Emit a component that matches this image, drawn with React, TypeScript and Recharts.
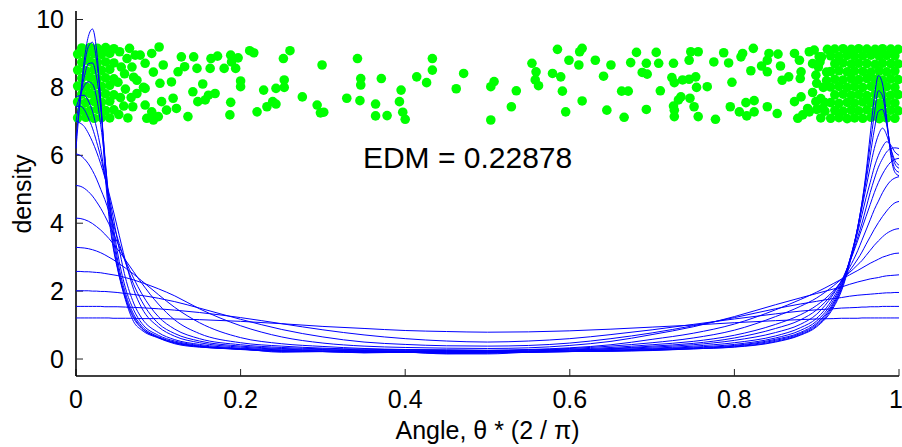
import React from "react";
import { ComposedChart, Line, Scatter, XAxis, YAxis, ReferenceDot } from "recharts";

const FONT = '"Liberation Sans", Arial, Helvetica, sans-serif';

// sample positions of the density curves
const X = [
  0, 0.005, 0.01, 0.015, 0.02, 0.025, 0.03, 0.035, 0.04, 0.045,
  0.05, 0.06, 0.07, 0.08, 0.1, 0.12, 0.15, 0.2, 0.25, 0.3,
  0.35, 0.4, 0.45, 0.5, 0.55, 0.6, 0.65, 0.7, 0.75, 0.8,
  0.85, 0.88, 0.9, 0.92, 0.93, 0.94, 0.95, 0.955, 0.96, 0.965,
  0.97, 0.975, 0.98, 0.985, 0.99, 0.995, 1,
];

// density estimates, widest bandwidth first
const C1 = [
  1.21, 1.21, 1.21, 1.21, 1.21, 1.21, 1.21, 1.21, 1.21, 1.2,
  1.2, 1.2, 1.2, 1.19, 1.19, 1.18, 1.16, 1.11, 1.04, 0.96,
  0.9, 0.84, 0.81, 0.79, 0.8, 0.83, 0.88, 0.94, 1.0, 1.07,
  1.13, 1.16, 1.18, 1.19, 1.2, 1.2, 1.2, 1.21, 1.21, 1.21,
  1.21, 1.21, 1.21, 1.21, 1.21, 1.21, 1.21,
];
const C2 = [
  1.55, 1.55, 1.55, 1.55, 1.55, 1.55, 1.55, 1.54, 1.54, 1.54,
  1.54, 1.53, 1.52, 1.51, 1.48, 1.44, 1.37, 1.22, 1.04, 0.86,
  0.71, 0.6, 0.53, 0.5, 0.53, 0.6, 0.72, 0.86, 1.02, 1.18,
  1.33, 1.41, 1.45, 1.48, 1.5, 1.51, 1.52, 1.53, 1.53, 1.54,
  1.54, 1.54, 1.55, 1.55, 1.55, 1.55, 1.55,
];
const C3 = [
  2.01, 2.01, 2.01, 2.01, 2.0, 2.0, 1.99, 1.99, 1.98, 1.97,
  1.96, 1.93, 1.9, 1.87, 1.79, 1.69, 1.5, 1.17, 0.87, 0.65,
  0.5, 0.43, 0.39, 0.38, 0.4, 0.47, 0.6, 0.77, 0.98, 1.22,
  1.48, 1.62, 1.7, 1.78, 1.81, 1.85, 1.88, 1.89, 1.9, 1.91,
  1.92, 1.93, 1.94, 1.95, 1.95, 1.96, 1.96,
];
const C4 = [
  2.58, 2.58, 2.57, 2.57, 2.56, 2.55, 2.54, 2.52, 2.5, 2.48,
  2.46, 2.4, 2.33, 2.25, 2.07, 1.86, 1.48, 0.98, 0.65, 0.47,
  0.38, 0.34, 0.32, 0.31, 0.33, 0.4, 0.52, 0.72, 0.95, 1.25,
  1.6, 1.8, 1.93, 2.06, 2.12, 2.2, 2.27, 2.3, 2.33, 2.36,
  2.38, 2.4, 2.43, 2.45, 2.46, 2.47, 2.48,
];
const C5 = [
  3.29, 3.28, 3.27, 3.25, 3.22, 3.18, 3.13, 3.07, 3.0, 2.93,
  2.85, 2.68, 2.5, 2.3, 1.9, 1.52, 1.07, 0.63, 0.45, 0.37,
  0.31, 0.28, 0.27, 0.26, 0.28, 0.33, 0.42, 0.58, 0.76, 1.03,
  1.45, 1.75, 1.97, 2.22, 2.35, 2.48, 2.61, 2.68, 2.75, 2.82,
  2.88, 2.94, 3.0, 3.04, 3.08, 3.11, 3.12,
];
const C6 = [
  4.15, 4.14, 4.11, 4.06, 3.99, 3.9, 3.8, 3.68, 3.55, 3.4,
  3.25, 2.92, 2.57, 2.23, 1.62, 1.15, 0.75, 0.48, 0.38, 0.32,
  0.29, 0.27, 0.26, 0.25, 0.27, 0.31, 0.38, 0.48, 0.62, 0.85,
  1.25, 1.55, 1.8, 2.15, 2.35, 2.55, 2.78, 2.9, 3.05, 3.2,
  3.35, 3.48, 3.6, 3.7, 3.77, 3.82, 3.84,
];
const C7 = [
  5.11, 5.09, 5.03, 4.93, 4.8, 4.63, 4.44, 4.22, 3.98, 3.72,
  3.45, 2.9, 2.38, 1.92, 1.25, 0.88, 0.6, 0.42, 0.34, 0.3,
  0.27, 0.26, 0.25, 0.24, 0.26, 0.29, 0.34, 0.42, 0.52, 0.7,
  1.02, 1.3, 1.58, 2.0, 2.28, 2.6, 2.95, 3.15, 3.38, 3.6,
  3.82, 4.02, 4.2, 4.36, 4.5, 4.6, 4.64,
];
const C8 = [
  6.04, 6.0, 5.9, 5.75, 5.55, 5.3, 5.0, 4.7, 4.35, 4.0,
  3.6, 2.85, 2.2, 1.7, 1.05, 0.75, 0.53, 0.38, 0.31, 0.28,
  0.25, 0.24, 0.23, 0.23, 0.24, 0.27, 0.31, 0.38, 0.46, 0.62,
  0.9, 1.15, 1.45, 1.95, 2.3, 2.7, 3.2, 3.5, 3.8, 4.1,
  4.4, 4.65, 4.9, 5.1, 5.25, 5.33, 5.37,
];
const C9 = [
  7.0, 6.95, 6.85, 6.65, 6.4, 6.1, 5.75, 5.35, 4.9, 4.4,
  3.9, 2.9, 2.05, 1.5, 0.95, 0.67, 0.48, 0.35, 0.29, 0.26,
  0.24, 0.23, 0.22, 0.22, 0.23, 0.26, 0.3, 0.35, 0.42, 0.55,
  0.78, 1.02, 1.32, 1.9, 2.3, 2.85, 3.5, 3.85, 4.2, 4.55,
  4.9, 5.2, 5.45, 5.65, 5.8, 5.88, 5.91,
];
const C10 = [
  7.43, 7.45, 7.35, 7.1, 6.8, 6.4, 5.95, 5.4, 4.8, 4.2,
  3.55, 2.4, 1.65, 1.2, 0.78, 0.57, 0.43, 0.32, 0.27, 0.24,
  0.23, 0.22, 0.21, 0.21, 0.22, 0.24, 0.28, 0.32, 0.38, 0.48,
  0.68, 0.92, 1.2, 1.8, 2.25, 2.85, 3.6, 4.0, 4.45, 4.9,
  5.3, 5.65, 5.9, 6.1, 6.2, 6.22, 6.2,
];
const C11 = [
  7.72, 7.76, 7.77, 7.6, 7.3, 6.8, 6.2, 5.4, 4.7, 3.95,
  3.2, 2.1, 1.45, 1.05, 0.7, 0.53, 0.4, 0.3, 0.25, 0.23,
  0.22, 0.21, 0.2, 0.2, 0.21, 0.23, 0.26, 0.3, 0.35, 0.43,
  0.62, 0.84, 1.12, 1.72, 2.2, 2.9, 3.75, 4.25, 4.75, 5.2,
  5.65, 6.0, 6.25, 6.4, 6.3, 6.1, 6.0,
];
const C12 = [
  7.4, 7.75, 8.05, 8.16, 8.1, 7.7, 6.9, 5.9, 4.75, 3.8,
  3.0, 1.95, 1.32, 0.97, 0.66, 0.5, 0.38, 0.29, 0.24, 0.22,
  0.21, 0.2, 0.19, 0.19, 0.2, 0.22, 0.25, 0.28, 0.33, 0.4,
  0.58, 0.78, 1.06, 1.65, 2.15, 2.9, 3.85, 4.45, 5.05, 5.65,
  6.2, 6.6, 6.8, 6.6, 6.2, 5.85, 5.71,
];
const C13 = [
  7.0, 7.7, 8.3, 8.7, 8.72, 8.3, 7.4, 6.0, 4.6, 3.6,
  2.85, 1.85, 1.25, 0.92, 0.64, 0.48, 0.37, 0.28, 0.23, 0.22,
  0.2, 0.2, 0.17, 0.18, 0.2, 0.22, 0.24, 0.27, 0.31, 0.38,
  0.55, 0.75, 1.02, 1.6, 2.1, 2.9, 3.9, 4.55, 5.25, 6.0,
  6.75, 7.3, 7.35, 6.9, 6.2, 5.75, 5.62,
];
const C14 = [
  6.5, 7.6, 8.6, 9.2, 9.33, 8.8, 7.6, 5.9, 4.4, 3.4,
  2.75, 1.8, 1.2, 0.9, 0.63, 0.47, 0.36, 0.29, 0.22, 0.22,
  0.19, 0.2, 0.16, 0.17, 0.21, 0.22, 0.23, 0.26, 0.3, 0.36,
  0.52, 0.72, 0.98, 1.55, 2.05, 2.85, 3.9, 4.6, 5.4, 6.3,
  7.2, 7.9, 7.75, 7.0, 6.1, 5.6, 5.5,
];
const C15 = [
  6.2, 7.6, 8.8, 9.5, 9.72, 9.1, 7.6, 5.6, 4.2, 3.3,
  2.7, 1.75, 1.1, 0.85, 0.62, 0.45, 0.35, 0.3, 0.2, 0.22,
  0.18, 0.2, 0.15, 0.15, 0.2, 0.22, 0.23, 0.25, 0.3, 0.35,
  0.5, 0.7, 0.95, 1.5, 2.0, 2.8, 3.9, 4.6, 5.5, 6.6,
  7.7, 8.35, 8.1, 7.1, 6.0, 5.5, 5.4,
];

const CURVES = [C1, C2, C3, C4, C5, C6, C7, C8, C9, C10, C11, C12, C13, C14, C15];

// raw angles (x) with jittered heights (y)
const LEFT_PTS: [number, number][] = [
  [0.002, 7.1], [0.012, 7.12], [0.022, 7.09], [0.031, 7.11], [0.041, 7.1],
  [0.007, 7.33], [0.017, 7.31], [0.026, 7.35], [0.036, 7.32], [0.046, 7.34],
  [0.002, 7.57], [0.012, 7.55], [0.022, 7.58], [0.031, 7.56], [0.041, 7.59],
  [0.007, 7.8], [0.017, 7.82], [0.026, 7.79], [0.036, 7.81], [0.046, 7.78],
  [0.002, 8.04], [0.012, 8.02], [0.022, 8.05], [0.031, 8.03], [0.041, 8.06],
  [0.007, 8.27], [0.017, 8.29], [0.026, 8.26], [0.036, 8.28], [0.046, 8.25],
  [0.002, 8.51], [0.012, 8.49], [0.022, 8.52], [0.031, 8.5], [0.041, 8.53],
  [0.007, 8.74], [0.017, 8.76], [0.026, 8.73], [0.036, 8.75], [0.046, 8.72],
  [0.002, 8.98], [0.012, 8.96], [0.022, 8.99], [0.031, 8.97], [0.041, 9.0],
  [0.007, 9.16], [0.017, 9.17], [0.026, 9.15], [0.036, 9.17], [0.046, 9.14],
  [0.052, 7.2], [0.054, 7.7], [0.051, 8.15], [0.055, 8.6], [0.053, 9.05],
  [0.058, 7.45], [0.06, 7.95], [0.059, 8.4], [0.062, 8.85], [0.065, 9.15],
  [0.063, 7.1], [0.067, 7.7], [0.07, 8.3], [0.072, 8.95], [0.068, 8.6],
  [0.101, 9.19], [0.092, 9.0], [0.078, 8.95], [0.084, 8.71], [0.074, 8.21],
  [0.084, 7.97], [0.102, 8.12], [0.116, 8.16], [0.124, 8.46], [0.132, 8.61],
  [0.143, 8.9], [0.147, 8.56], [0.142, 7.87], [0.148, 7.58], [0.074, 7.82],
  [0.069, 7.43], [0.084, 7.48], [0.092, 7.28], [0.104, 7.58], [0.1, 7.14],
  [0.11, 7.33], [0.118, 7.68], [0.122, 7.38], [0.136, 7.14], [0.086, 7.09],
  [0.094, 7.04], [0.106, 8.66], [0.094, 8.45], [0.128, 8.9], [0.082, 8.0],
];

const MID_PTS: [number, number][] = [
  [0.164, 8.85], [0.172, 8.92], [0.163, 8.56], [0.154, 8.1], [0.169, 7.82],
  [0.161, 7.77], [0.157, 7.63], [0.188, 8.95], [0.189, 8.75], [0.197, 8.87],
  [0.194, 8.56], [0.18, 8.56], [0.188, 7.56], [0.187, 7.19], [0.2, 8.19],
  [0.2, 8.02], [0.211, 9.08], [0.216, 9.02], [0.22, 7.28], [0.228, 7.92],
  [0.232, 7.43], [0.239, 7.58], [0.243, 7.51], [0.243, 7.97], [0.253, 8.22],
  [0.253, 8.0], [0.252, 8.85], [0.26, 9.08], [0.275, 7.72], [0.293, 7.48],
  [0.297, 7.25], [0.301, 7.27], [0.299, 8.66], [0.329, 7.68], [0.342, 8.85],
  [0.346, 8.26], [0.346, 8.07], [0.345, 7.61], [0.364, 7.51], [0.364, 7.16],
  [0.371, 8.26], [0.378, 7.17], [0.395, 7.92], [0.393, 7.58], [0.397, 7.27],
  [0.4, 7.06], [0.414, 8.31], [0.426, 8.14], [0.433, 8.85], [0.433, 8.51],
  [0.462, 7.96], [0.471, 8.41], [0.504, 8.02], [0.508, 8.17], [0.504, 7.04],
  [0.529, 7.43], [0.535, 7.9], [0.554, 8.71], [0.559, 8.46], [0.558, 8.22],
  [0.562, 8.05], [0.579, 8.41], [0.585, 9.12], [0.589, 8.31], [0.591, 7.89],
  [0.595, 7.28], [0.599, 8.8], [0.611, 8.66], [0.612, 9.05], [0.615, 9.15],
  [0.615, 7.6], [0.631, 8.8], [0.641, 8.33], [0.65, 8.66], [0.645, 7.33],
  [0.663, 7.89], [0.671, 7.89], [0.666, 7.12], [0.674, 8.73], [0.681, 9.03],
  [0.693, 8.71], [0.688, 8.44], [0.694, 8.39], [0.693, 7.35], [0.705, 9.03],
  [0.708, 8.71], [0.71, 7.9], [0.726, 8.71], [0.724, 8.29], [0.727, 8.14],
  [0.737, 8.22], [0.745, 8.24], [0.753, 8.31], [0.735, 7.72], [0.732, 7.63],
  [0.746, 7.68], [0.726, 7.45], [0.727, 7.33], [0.727, 7.14], [0.747, 9.05],
  [0.745, 8.8], [0.754, 8.0], [0.751, 7.43], [0.756, 9.05], [0.756, 7.14],
];

const RIGHT_PTS: [number, number][] = [
  [0.775, 8.75], [0.787, 9.02], [0.793, 8.72], [0.808, 8.9], [0.81, 9.0],
  [0.823, 9.15], [0.82, 8.49], [0.797, 8.15], [0.767, 8.02], [0.795, 7.43],
  [0.814, 7.55], [0.824, 7.61], [0.806, 7.28], [0.815, 7.16], [0.824, 7.28],
  [0.777, 7.06], [0.842, 9.0], [0.84, 8.8], [0.853, 8.98], [0.833, 8.63],
  [0.84, 8.46], [0.856, 8.63], [0.858, 8.21], [0.866, 8.31], [0.873, 9.0],
  [0.891, 9.05], [0.879, 8.8], [0.881, 8.46], [0.88, 8.26], [0.873, 7.58],
  [0.881, 7.72], [0.889, 7.38], [0.877, 7.09], [0.883, 7.19], [0.891, 7.28],
  [0.84, 7.43], [0.852, 7.23], [0.895, 8.7], [0.899, 8.36], [0.9, 8.12],
  [0.905, 7.67], [0.899, 7.58], [0.907, 7.38], [0.903, 8.9],
  [0.905, 7.1], [0.91, 7.55], [0.908, 8.0], [0.912, 8.45], [0.906, 8.9],
  [0.913, 9.12], [0.9, 7.35], [0.902, 8.6], [0.895, 7.85], [0.897, 9.1],
  [0.91, 7.3], [0.912, 8.2], [0.904, 8.75],
  [0.917, 7.09], [0.927, 7.11], [0.937, 7.08], [0.946, 7.1], [0.956, 7.09], [0.966, 7.12], [0.976, 7.08], [0.985, 7.1], [0.995, 7.09],
  [0.922, 7.32], [0.932, 7.3], [0.942, 7.33], [0.951, 7.31], [0.961, 7.34], [0.971, 7.3], [0.98, 7.32], [0.99, 7.33], [0.999, 7.31],
  [0.917, 7.55], [0.927, 7.53], [0.937, 7.56], [0.946, 7.54], [0.956, 7.57], [0.966, 7.55], [0.976, 7.53], [0.985, 7.56], [0.995, 7.54],
  [0.922, 7.78], [0.932, 7.8], [0.942, 7.77], [0.951, 7.79], [0.961, 7.76], [0.971, 7.8], [0.98, 7.78], [0.99, 7.77], [0.999, 7.79],
  [0.917, 8.01], [0.927, 8.03], [0.937, 8.0], [0.946, 8.02], [0.956, 8.0], [0.966, 8.03], [0.976, 8.01], [0.985, 8.02], [0.995, 8.0],
  [0.922, 8.24], [0.932, 8.22], [0.942, 8.25], [0.951, 8.23], [0.961, 8.26], [0.971, 8.24], [0.98, 8.22], [0.99, 8.25], [0.999, 8.23],
  [0.917, 8.47], [0.927, 8.49], [0.937, 8.46], [0.946, 8.48], [0.956, 8.47], [0.966, 8.45], [0.976, 8.48], [0.985, 8.46], [0.995, 8.48],
  [0.922, 8.7], [0.932, 8.72], [0.942, 8.69], [0.951, 8.71], [0.961, 8.7], [0.971, 8.68], [0.98, 8.71], [0.99, 8.7], [0.999, 8.69],
  [0.917, 8.93], [0.927, 8.91], [0.937, 8.94], [0.946, 8.92], [0.956, 8.93], [0.966, 8.95], [0.976, 8.92], [0.985, 8.94], [0.995, 8.93],
  [0.922, 9.13], [0.932, 9.14], [0.942, 9.12], [0.951, 9.14], [0.961, 9.13], [0.971, 9.12], [0.98, 9.14], [0.99, 9.13], [0.999, 9.12],
];

const X_TICKS = [0, 0.2, 0.4, 0.6, 0.8, 1];
const Y_TICKS = [0, 2, 4, 6, 8, 10];
const EDM_TEXT = "EDM = 0.22878";

const rows = X.map((x, i) => {
  const r: Record<string, number> = { x };
  CURVES.forEach((c, j) => {
    r["c" + (j + 1)] = c[i];
  });
  return r;
});

const points = [...LEFT_PTS, ...MID_PTS, ...RIGHT_PTS].map(([x, y]) => ({ x, y }));

const tickStyle = { fill: "#000", fontSize: 25, fontFamily: FONT };
const axisLine = { stroke: "#000", strokeWidth: 1.6 };
const tickLine = { stroke: "#222", strokeWidth: 1 };

// bottom tick label; the last one is pulled in a little so it stays on the page
const XTick = (props: any) => {
  const { x, y, payload } = props;
  const v = payload.value;
  return (
    <text
      x={v === 1 ? x - 3 : x}
      y={y}
      dy="0.71em"
      textAnchor="middle"
      fontSize={25}
      fontFamily={FONT}
      fill="#000"
    >
      {String(v)}
    </text>
  );
};

export default function App() {
  return (
    <div style={{ width: 902, height: 447, background: "#fff" }}>
      <style>{"body{margin:0}"}</style>
      <ComposedChart
        width={902}
        height={447}
        data={rows}
        margin={{ top: 11, right: 3, bottom: 0, left: 0 }}
      >
        <XAxis
          dataKey="x"
          type="number"
          domain={[0, 1]}
          ticks={X_TICKS}
          interval={0}
          height={71}
          tickSize={-7}
          tickMargin={21}
          tick={<XTick />}
          tickLine={tickLine}
          axisLine={axisLine}
          label={{
            content: () => (
              <text x={487.5} y={438.5} textAnchor="middle" fontSize={25} fontFamily={FONT} fill="#000">
                Angle, θ * (2 / π)
              </text>
            ),
          }}
        />
        <XAxis
          xAxisId="top"
          orientation="top"
          type="number"
          domain={[0, 1]}
          ticks={X_TICKS}
          interval={0}
          height={0}
          tickSize={-7}
          tick={false}
          tickLine={tickLine}
          axisLine={axisLine}
        />
        <YAxis
          type="number"
          domain={[-0.5, 10.25]}
          ticks={Y_TICKS}
          interval={0}
          width={76}
          tickSize={-7}
          tickMargin={19}
          tick={tickStyle}
          tickLine={tickLine}
          axisLine={axisLine}
          label={{
            content: () => (
              <text
                x={31}
                y={194}
                transform="rotate(-90 31 194)"
                textAnchor="middle"
                fontSize={25}
                fontFamily={FONT}
                fill="#000"
              >
                density
              </text>
            ),
          }}
        />
        <YAxis
          yAxisId="right"
          orientation="right"
          type="number"
          domain={[-0.5, 10.25]}
          ticks={Y_TICKS}
          interval={0}
          width={0}
          tickSize={-7}
          tick={false}
          tickLine={tickLine}
          axisLine={axisLine}
        />
        <Scatter
          data={points}
          dataKey="y"
          isAnimationActive={false}
          shape={(p: any) => <circle cx={p.cx} cy={p.cy} r={4.8} fill="#00ff00" />}
        />
        {CURVES.map((_, j) => (
          <Line
            key={j}
            dataKey={"c" + (j + 1)}
            type="monotone"
            stroke="#0000ff"
            strokeWidth={1}
            dot={false}
            activeDot={false}
            isAnimationActive={false}
            zIndex={700}
          />
        ))}
        <ReferenceDot
          x={0.3486}
          y={5.95}
          r={0}
          shape={(p: any) => (
            <text x={p.cx} y={p.cy} dy="0.35em" fontSize={30} fontFamily={FONT} fill="#000">
              {EDM_TEXT}
            </text>
          )}
        />
      </ComposedChart>
    </div>
  );
}
